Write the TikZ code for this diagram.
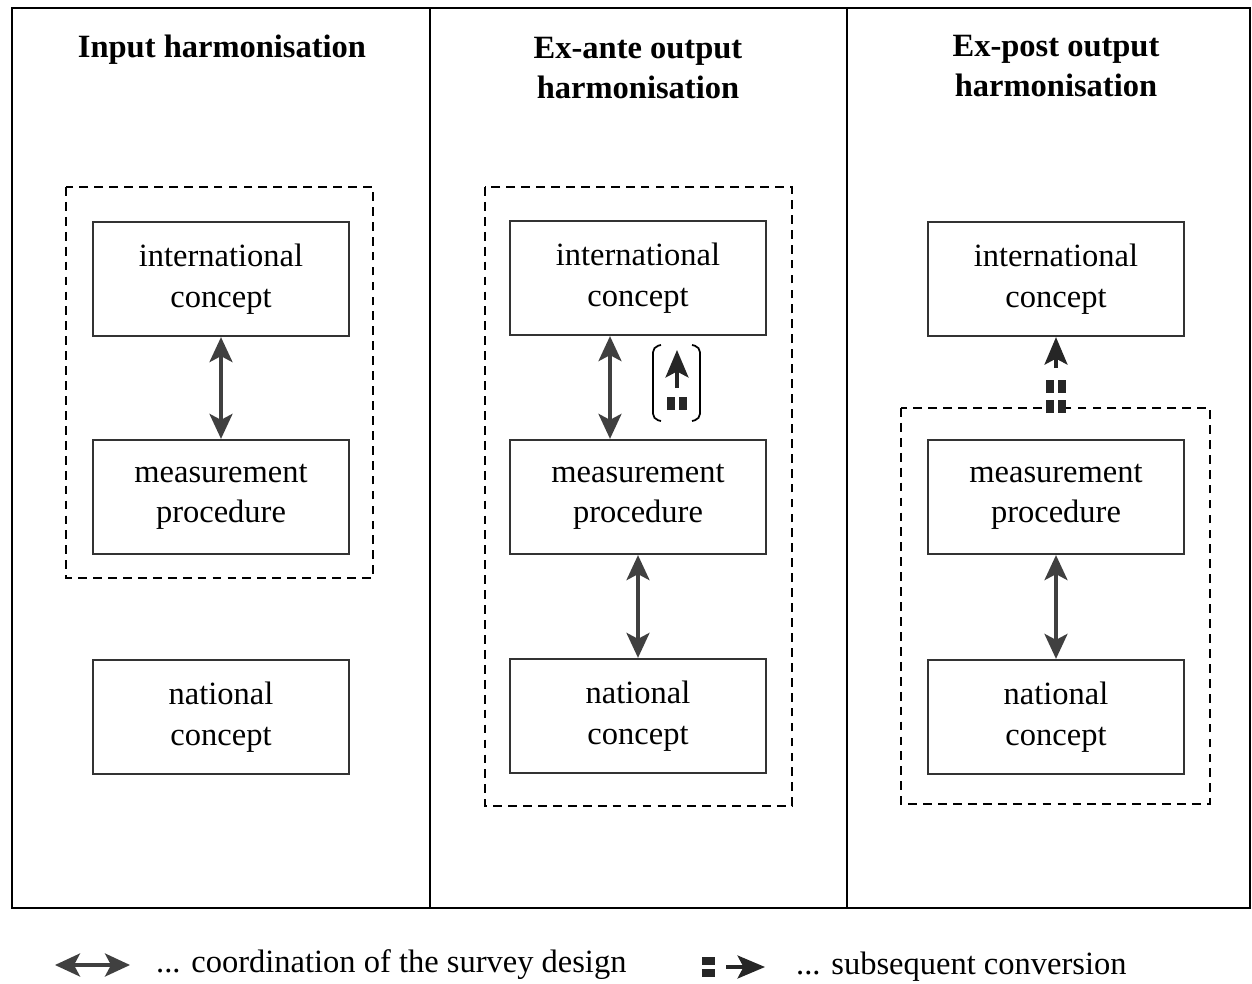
\documentclass[tikz,border=0pt]{standalone}
\usepackage{fontspec}
\setmainfont{Liberation Serif}
\usetikzlibrary{arrows.meta}
\begin{document}
\begin{tikzpicture}[x=0.02cm,y=-0.02cm,
    font=\fontsize{18.5}{23}\selectfont,
    box/.style={draw=black!80,line width=1.3pt,minimum width=5.12cm,minimum height=2.28cm,align=center,inner sep=0pt},
    title/.style={font=\fontsize{18.5}{23}\selectfont\bfseries,align=center},
    grp/.style={draw,line width=1.1pt,dash pattern=on 5pt off 3.5pt},
    coord/.style={draw=black!75,line width=2pt,{Stealth[length=0.5cm,width=0.46cm,inset=0.12cm]}-{Stealth[length=0.5cm,width=0.46cm,inset=0.12cm]}},
    conv/.style={draw=black!85,line width=4.4pt,double,double distance=2.2pt,dash pattern=on 7.5pt off 4pt},
    convtip/.style={draw=black!85,line width=1.8pt,-{Stealth[length=0.55cm,width=0.46cm,inset=0.12cm]}}]
  \useasboundingbox (0,0) rectangle (1252,984);
  \draw[line width=1.4pt] (12,8) rectangle (1250,908);
  \draw[line width=1.2pt] (430,8) -- (430,908) (847,8) -- (847,908);
  % titles
  \node[title] (t1) at (222,50) {Input harmonisation};
  \node[title] (t2) at (638,68) {Ex-ante output\\harmonisation};
  \node[title] (t3) at (1056,66) {Ex-post output\\harmonisation};
  % input harmonisation
  \draw[grp] (66,187) rectangle (373,578);
  \node[box] (ic1) at (221,279) {international\\concept};
  \node[box] (mp1) at (221,497) {measurement\\procedure};
  \node[box] (nc1) at (221,717) {national\\concept};
  \draw[coord] (ic1) -- (mp1);
  % ex-ante
  \draw[grp] (485,187) rectangle (792,806);
  \node[box] (ic2) at (638,278) {international\\concept};
  \node[box] (mp2) at (638,497) {measurement\\procedure};
  \node[box] (nc2) at (638,716) {national\\concept};
  \draw[coord] (ic2.south -| 610,0) -- (mp2.north -| 610,0);
  \draw[coord] (mp2) -- (nc2);
  \coordinate (b1) at (677,410);
  \coordinate (b2) at (677,350);
  \draw[line width=1pt,rounded corners=3pt] (661,345) -- (653,347) -- (653,419) -- (661,421)
    (692,345) -- (700,347) -- (700,419) -- (692,421);
  \draw[conv] (b1) -- (677,396);
  \draw[convtip] (677,388) -- (b2);
  % ex-post
  \node[box] (ic3) at (1056,279) {international\\concept};
  \draw[grp] (901,408) rectangle (1210,804);
  \node[box] (mp3) at (1056,497) {measurement\\procedure};
  \node[box] (nc3) at (1056,717) {national\\concept};
  \coordinate (g3) at (1056,413);
  \draw[conv] (g3) -- (1056,374);
  \draw[convtip] (1056,368) -- (ic3.south);
  \draw[coord] (mp3) -- (nc3);
  % legend
  \coordinate (l1) at (55,965);
  \coordinate (l2) at (130,965);
  \draw[coord] (l1) -- (l2);
  \node[anchor=west] (lt1) at (150,965) {... coordination of the survey design};
  \coordinate (l3) at (702,967);
  \coordinate (l4) at (765,967);
  \draw[conv,line width=4.4pt,double distance=2.2pt,solid] (l3) -- (715,967);
  \draw[convtip] (726,967) -- (l4);
  \node[anchor=west] (lt2) at (790,967) {... subsequent conversion};
\end{tikzpicture}
\end{document}
